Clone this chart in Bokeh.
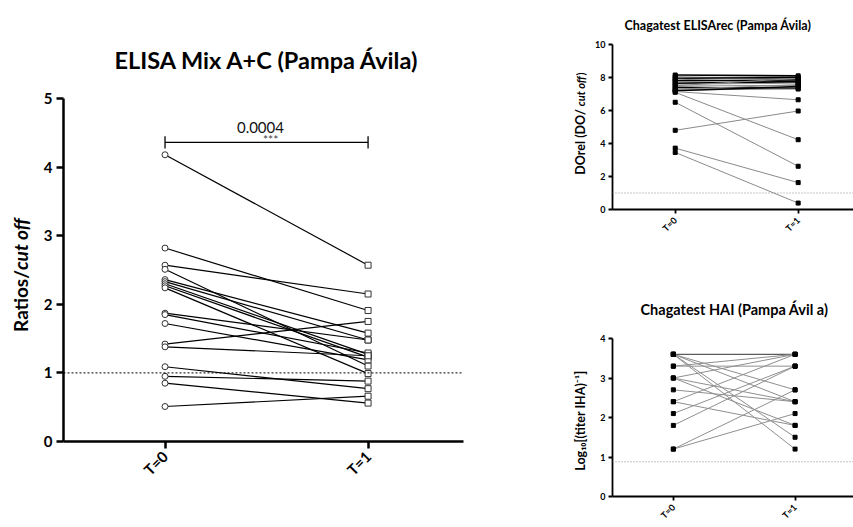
import math
from bokeh.plotting import figure
from bokeh.models import Label, Span, FixedTicker
from bokeh.layouts import row, column
from bokeh.embed import file_html
from bokeh.resources import INLINE

# ---------------- data ----------------
time_labels = ["T=0", "T=1"]

mix_t0 = [4.18, 2.82, 2.57, 2.51, 2.36, 2.33, 2.30, 2.27, 2.24, 1.87, 1.85, 1.72, 1.42, 1.38, 1.09, 0.95, 0.85, 0.51]
mix_t1 = [2.57, 1.91, 2.15, 1.10, 1.58, 1.48, 1.27, 1.23, 0.99, 1.48, 1.29, 1.19, 1.75, 1.25, 0.77, 0.88, 0.56, 0.66]
mix_cutoff = 1.0
mix_pvalue = "0.0004"
mix_stars = "***"

rec_t0 = [8.15, 8.05, 7.95, 7.90, 7.80, 7.75, 7.65, 7.55, 7.50, 7.40, 7.30, 7.25, 7.20, 7.15, 7.10, 6.50, 4.80, 3.72, 3.46]
rec_t1 = [8.10, 7.90, 8.00, 7.70, 7.85, 7.60, 7.75, 7.50, 7.95, 7.35, 7.55, 7.30, 7.45, 6.65, 4.23, 2.62, 5.97, 1.63, 0.39]
rec_dark = [1, 0, 1, 0, 1, 0, 1, 0, 0, 1, 0, 0, 1, 0, 0, 0, 0, 0, 0]
rec_cutoff = 1.0

hai_t0 = [3.6, 3.6, 3.6, 3.6, 3.6, 3.3, 3.3, 3.0, 3.0, 3.0, 2.7, 2.4, 2.4, 2.1, 1.8, 1.2, 1.2]
hai_t1 = [3.6, 2.7, 2.4, 1.5, 1.2, 3.6, 3.3, 3.6, 1.8, 2.4, 2.4, 3.6, 1.8, 3.3, 3.3, 2.7, 2.1]
hai_cutoff = 0.88

FONT = "Lato"


def style_axes(p, yticks, ybounds, tick_size, xlab_size, axis_w, tick_len, label_standoff):
    p.xaxis.ticker = FixedTicker(ticks=[0, 1])
    p.xaxis.major_label_overrides = {0: time_labels[0], 1: time_labels[1]}
    p.xaxis.major_label_orientation = math.pi / 4
    p.yaxis.ticker = FixedTicker(ticks=yticks)
    p.yaxis.bounds = ybounds
    p.yaxis.major_label_standoff = label_standoff
    for ax in (p.xaxis, p.yaxis):
        ax.axis_line_width = axis_w
        ax.axis_line_color = "black"
        ax.major_tick_line_width = axis_w
        ax.major_tick_line_color = "black"
        ax.major_tick_out = tick_len
        ax.major_tick_in = 0
        ax.minor_tick_line_color = None
        ax.major_label_text_font = FONT
        ax.major_label_text_font_style = "bold"
        ax.major_label_text_color = "black"
    p.yaxis.major_label_text_font_size = tick_size
    p.xaxis.major_label_text_font_size = xlab_size
    p.xgrid.visible = False
    p.ygrid.visible = False
    p.outline_line_color = None
    p.background_fill_color = "white"
    p.border_fill_color = "white"
    p.title.text_font = FONT
    p.title.text_font_style = "bold"
    p.title.align = "left"
    p.title.text_color = "black"


def strip(width, height, y_range):
    # bare label strip; shares the neighbouring panel's y range (frames are aligned in a row)
    s = figure(width=width, height=height, x_range=(0, width), y_range=y_range,
               output_backend="svg", toolbar_location=None, x_axis_type=None,
               y_axis_type=None, min_border=0)
    s.outline_line_color = None
    s.background_fill_color = "white"
    s.border_fill_color = "white"
    return s


def vlabel(p, x, y, text, size, style="bold", align="left"):
    p.add_layout(Label(x=x, y=y, text=text, text_font=FONT, text_font_size=size,
                       text_font_style=style, text_align=align, text_baseline="middle",
                       angle=math.pi / 2, text_color="black"))


# ---------------- left panel ----------------
left = figure(width=520, height=527, output_backend="svg", toolbar_location=None,
              x_range=(-0.5, 1.47), y_range=(0, 5),
              title="ELISA Mix A+C (Pampa Ávila)",
              min_border_left=21, min_border_right=97, min_border_top=98, min_border_bottom=86)
style_axes(left, [0, 1, 2, 3, 4, 5], (0, 5), "15px", "15px", 2.5, 7, 4)
left.title.text_font_size = "23.5px"
left.title.standoff = 50
left.title.offset = 51

left.add_layout(Span(location=mix_cutoff, dimension="width", line_color="black",
                     line_width=1, line_dash="2 2"))
left.multi_line(xs=[[0, 1] for _ in mix_t0], ys=[[a, b] for a, b in zip(mix_t0, mix_t1)],
                line_color="black", line_width=1.2)
left.scatter([0] * len(mix_t0), mix_t0, marker="circle", size=6, fill_color="white",
             line_color="#333333", line_width=1)
left.scatter([1] * len(mix_t1), mix_t1, marker="square", size=6, fill_color="white",
             line_color="#333333", line_width=1)

# significance bracket
left.segment(x0=[0, 0, 1], y0=[4.36, 4.45, 4.45], x1=[1, 0, 1], y1=[4.36, 4.27, 4.27],
             line_color="black", line_width=1.3)
left.add_layout(Label(x=0.47, y=4.58, text=mix_pvalue, text_font=FONT, text_font_size="15px",
                      text_align="center", text_baseline="middle", text_color="#111111"))
left.add_layout(Label(x=0.52, y=4.40, text=mix_stars, text_font=FONT, text_font_size="12px",
                      text_align="center", text_baseline="middle", text_color="#444444"))

strip_l = strip(40, 527, left.y_range)
vlabel(strip_l, 20, 2.50, "Ratios/", "19px", "bold", "right")
vlabel(strip_l, 20, 2.50, "cut off", "19px", "bold italic", "left")

# ---------------- top right panel ----------------
rt = figure(width=263, height=263, output_backend="svg", toolbar_location=None,
            x_range=(-0.51, 1.45), y_range=(0, 10),
            title="Chagatest ELISArec   (Pampa Ávila)",
            min_border_left=22, min_border_right=0, min_border_top=44, min_border_bottom=54)
style_axes(rt, [0, 2, 4, 6, 8, 10], (0, 10), "9px", "9px", 1.8, 4, 3)
rt.title.text_font_size = "12.5px"
rt.title.standoff = 24
rt.title.offset = 12
rt.add_layout(Span(location=rec_cutoff, dimension="width", line_color="#888888",
                   line_width=1, line_dash="1 2"))
rt.multi_line(xs=[[0, 1] for _ in rec_t0], ys=[[a, b] for a, b in zip(rec_t0, rec_t1)],
              line_color=["black" if d else "#8a8a8a" for d in rec_dark],
              line_width=[1.6 if d else 1.0 for d in rec_dark])
rt.scatter([0] * len(rec_t0), rec_t0, marker="square", size=4, color="black")
rt.scatter([1] * len(rec_t1), rec_t1, marker="square", size=4, color="black")

strip_rt = strip(30, 263, rt.y_range)
vlabel(strip_rt, 20, 6.08, "DOrel (DO/", "12.5px", "bold", "right")
vlabel(strip_rt, 20, 6.26, "cut off", "11px", "bold italic", "left")
vlabel(strip_rt, 20, 8.12, ")", "11px", "bold", "left")

# ---------------- bottom right panel ----------------
rb = figure(width=263, height=264, output_backend="svg", toolbar_location=None,
            x_range=(-0.50, 1.48), y_range=(0, 4),
            title="Chagatest HAI  (Pampa Ávil a)",
            min_border_left=22, min_border_right=0, min_border_top=75, min_border_bottom=29)
style_axes(rb, [0, 1, 2, 3, 4], (0, 4), "9px", "9px", 1.8, 4, 3)
rb.title.text_font_size = "14.5px"
rb.title.standoff = 42
rb.title.offset = 28
rb.add_layout(Span(location=hai_cutoff, dimension="width", line_color="#888888",
                   line_width=1, line_dash="1 2"))
rb.multi_line(xs=[[0, 1] for _ in hai_t0], ys=[[a, b] for a, b in zip(hai_t0, hai_t1)],
              line_color=["#333333" if (a == b == 3.6) else "#8f8f8f" for a, b in zip(hai_t0, hai_t1)],
              line_width=1.0)
rb.scatter([0] * len(hai_t0), hai_t0, marker="square", size=4, color="black")
rb.scatter([1] * len(hai_t1), hai_t1, marker="square", size=4, color="black")

strip_rb = strip(30, 264, rb.y_range)
vlabel(strip_rb, 20, 1.92, "Log₁₀[(titer IHA)⁻¹]", "12.5px", "bold", "center")

layout = row(strip_l, left,
             column(row(strip_rt, rt, spacing=0), row(strip_rb, rb, spacing=0), spacing=0),
             spacing=0)
open("out.html", "w").write(file_html(layout, INLINE))
